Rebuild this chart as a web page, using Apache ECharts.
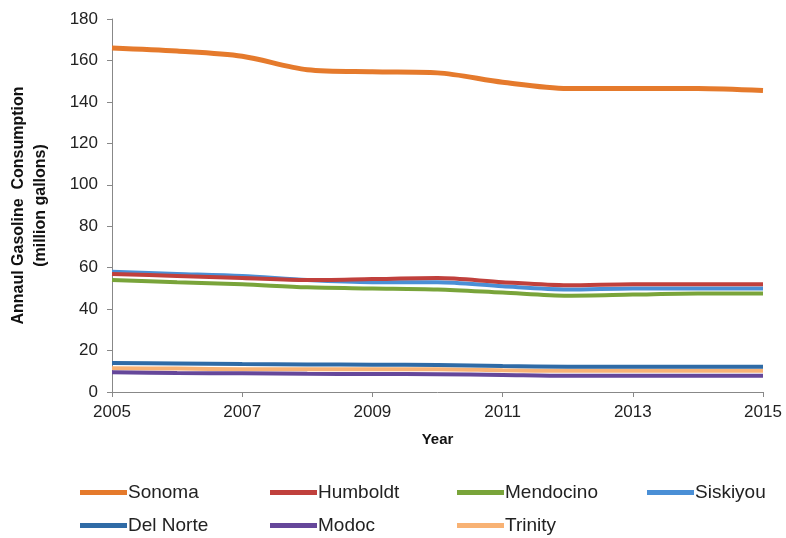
<!DOCTYPE html>
<html lang="en">
<head>
<meta charset="UTF-8">
<title>Gasoline consumption</title>
<script src="https://cdn.jsdelivr.net/npm/echarts@6/dist/echarts.min.js"></script>
<style>body{margin:0;background:#fff}</style>
</head>
<body>
<div id="main" style="width:786px;height:538px"></div>
<script>
let years=['2005','2006','2007','2008','2009','2010','2011','2012','2013','2014','2015']
let sonoma=[166,164.5,162,155.5,154.5,154,149.5,146.5,146.5,146.5,145.5]
let humboldt=[57,56,55,54,54.5,55,53,51.5,52,52,52]
let mendocino=[54,53,52,50.5,50,49.5,48,46.5,47,47.5,47.5]
let siskiyou=[58,57,56,54,53,53,51,49.5,50,50,50]
let delNorte=[14,13.8,13.5,13.3,13.2,13,12.5,12.2,12.2,12.2,12.2]
let modoc=[9.5,9.2,9,8.8,8.7,8.6,8.2,7.8,7.8,7.9,7.8]
let trinity=[11.5,11.3,11,11,11,11,10.5,10.2,10.2,10.2,10.2]

let names=['Sonoma','Humboldt','Mendocino','Siskiyou','Del Norte','Modoc','Trinity']
let colors=['#E57A2C','#C0403C','#79A43A','#4A8FD6','#2F6BA6','#65479A','#F8B274']
let values=[sonoma,humboldt,mendocino,siskiyou,delNorte,modoc,trinity]

let font='Liberation Sans'
let mycharts=echarts.init(document.getElementById('main'))
let series=[]
for(let i=0;i<names.length;i++){
    series.push({
        name:names[i],
        type:'line',
        smooth:0.3,
        symbol:'none',
        data:values[i],
        lineStyle:{width:i===0?5:4,color:colors[i]},
        itemStyle:{color:colors[i]}
    })
}
// draw order: big ones last so they sit on top like the original
series=[series[6],series[5],series[4],series[2],series[3],series[1],series[0]]

// one legend per entry, laid out in a 4-column grid
let colLeft=[75,265,452,642]
let rowTop=[478,511]
let legends=[]
for(let i=0;i<names.length;i++){
    legends.push({
        data:[names[i]],
        left:colLeft[i%4],
        top:rowTop[Math.floor(i/4)],
        itemWidth:47,
        itemHeight:5,
        icon:'rect',
        textStyle:{fontFamily:font,fontSize:19,color:'#222',padding:[0,0,0,-4]}
    })
}
mycharts.setOption({
    animation:false,
    color:colors,
    grid:{left:112,right:23,top:19,bottom:146},
    legend:legends,
    xAxis:{
        type:'category',
        data:years,
        boundaryGap:false,
        name:'Year',
        nameLocation:'middle',
        nameGap:40,
        nameTextStyle:{fontFamily:font,fontSize:15,fontWeight:'bold',color:'#111'},
        axisLine:{lineStyle:{color:'#888',width:1}},
        axisTick:{interval:1,length:5,lineStyle:{color:'#888'}},
        axisLabel:{interval:1,fontFamily:font,fontSize:17,color:'#222',margin:12},
        splitLine:{show:false}
    },
    yAxis:{
        type:'value',
        min:0,
        max:180,
        interval:20,
        name:'Annaul Gasoline  Consumption\n(million gallons)',
        nameLocation:'middle',
        nameGap:60,
        nameTextStyle:{fontFamily:font,fontSize:16,fontWeight:'bold',color:'#111',lineHeight:22},
        axisLine:{show:true,lineStyle:{color:'#888',width:1}},
        axisTick:{show:true,length:5,lineStyle:{color:'#888'}},
        axisLabel:{fontFamily:font,fontSize:17,color:'#222',margin:14},
        splitLine:{show:false}
    },
    series:series
})
</script>
</body>
</html>
